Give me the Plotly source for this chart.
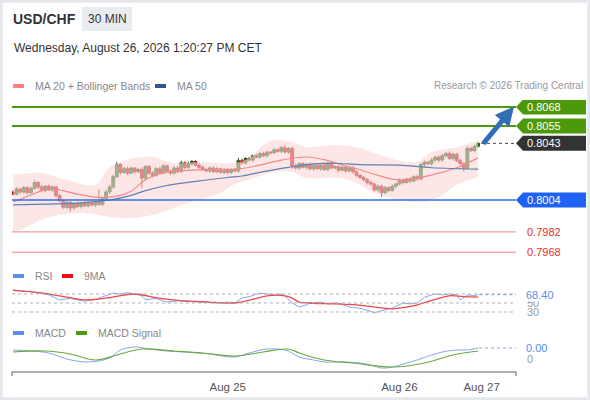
import plotly.graph_objects as go

W, H = 590, 400
FONT = "Liberation Sans, Arial, sans-serif"

# ---- candles (points above 0.80000, 1 pt = 0.00001) ----
open_first = 95
closes = [80, 115, 95, 125, 90, 120, 160, 130, 105, 135,
          110, 130, 70, 35, -10, 25, -15, 15, -5, 20,
          0, 25, 5, 30, 10, 50, 95, 130, 200, 285,
          230, 255, 225, 260, 235, 250, 190, 270, 225, 210,
          255, 230, 275, 240, 225, 260, 235, 295, 265, 290,
          305, 280, 265, 250, 240, 260, 235, 255, 230, 250,
          230, 250, 240, 310, 295, 325, 315, 345, 335, 360,
          345, 370, 365, 385, 375, 400, 370, 395, 275, 260,
          290, 265, 285, 255, 280, 255, 280, 250, 290, 260,
          270, 245, 265, 240, 260, 235, 210, 195, 180, 160,
          150, 110, 135, 90, 125, 105, 135, 150, 175, 160,
          185, 170, 200, 185, 285, 300, 290, 315, 335, 315,
          345, 360, 325, 355, 310, 290, 260, 395, 380, 410,
          430]
wick_up = [10, 14, 8, 12, 10, 14, 20, 10, 14, 8,
           12, 10, 8, 14, 10, 12, 8, 10, 14, 8,
           12, 10, 8, 14, 85, 10, 14, 12, 14, 16,
           10, 12, 14, 10, 8, 12, 14, 10, 12, 15,
           10, 14, 12, 8, 10, 14, 12, 16, 10, 14,
           12, 8, 10, 14, 8, 12, 10, 14, 8, 10,
           12, 8, 10, 20, 14, 10, 12, 8, 14, 10,
           12, 10, 8, 14, 10, 12, 18, 10, 14, 14,
           10, 12, 8, 14, 10, 12, 8, 10, 14, 12,
           10, 8, 14, 10, 12, 14, 10, 8, 12, 10,
           14, 8, 12, 10, 14, 8, 12, 10, 14, 10,
           8, 12, 10, 14, 10, 12, 8, 14, 10, 12,
           14, 10, 15, 12, 10, 14, 8, 14, 12, 10,
           8]
wick_dn = [10, 8, 14, 10, 12, 8, 10, 14, 10, 12,
           8, 14, 12, 10, 14, 10, 25, 12, 10, 14,
           10, 12, 8, 14, 10, 12, 10, 14, 12, 10,
           14, 10, 12, 8, 14, 10, 70, 12, 10, 14,
           10, 8, 14, 10, 12, 10, 14, 8, 12, 10,
           14, 10, 12, 8, 10, 14, 10, 12, 8, 14,
           10, 12, 8, 14, 10, 12, 10, 14, 8, 12,
           10, 14, 12, 8, 10, 14, 10, 12, 20, 10,
           12, 8, 14, 10, 12, 8, 14, 10, 12, 8,
           10, 14, 8, 12, 10, 14, 12, 8, 10, 14,
           10, 12, 14, 25, 10, 12, 8, 14, 10, 12,
           8, 14, 10, 12, 10, 14, 8, 12, 10, 14,
           10, 12, 8, 14, 10, 12, 25, 10, 12, 8,
           10]

# ---- moving averages and bands (candle index, points) ----
ma20_idx = [0, 5, 10, 14, 18, 23, 27, 30, 33, 37, 41, 46, 52, 60, 65, 69, 75, 82, 87, 92, 97, 102, 107, 112, 119, 124, 130]
ma20_val = [26, 74, 120, 105, 80, 60, 60, 72, 100, 180, 220, 240, 248, 250, 260, 280, 315, 336, 318, 282, 248, 210, 180, 188, 225, 262, 330]
ma50_idx = [0, 9, 18, 27, 33, 37, 43, 50, 60, 64, 70, 77, 84, 90, 97, 108, 117, 130]
ma50_val = [6, 12, 19, 40, 72, 105, 140, 165, 195, 205, 235, 265, 288, 293, 283, 280, 262, 253]
bbu_idx = [0, 8, 15, 23, 27, 30, 34, 39, 45, 52, 62, 66, 70, 73, 78, 82, 90, 97, 105, 113, 117, 124, 130]
bbu_val = [212, 226, 178, 145, 267, 300, 329, 336, 295, 302, 295, 329, 420, 453, 439, 405, 418, 398, 329, 302, 370, 405, 450]
bbl_idx = [0, 2, 6, 10, 20, 27, 34, 41, 49, 58, 62, 66, 73, 78, 82, 92, 97, 101, 108, 115, 119, 124, 130]
bbl_val = [-180, -166, -118, -77, -50, -77, -84, -50, 19, 88, 150, 180, 233, 233, 191, 191, 143, 88, 40, 26, 61, 143, 198]

# ---- RSI ----
rsi_idx = [0, 2, 4, 6, 8, 10, 13, 16, 20, 23, 26, 28, 30, 32, 34, 36, 37, 40, 43, 46, 50, 53, 57, 60,
           62, 64, 66, 69, 71, 73, 75, 76, 78, 80, 82, 83, 86, 88, 90, 92, 94, 97, 99, 101, 103, 106,
           109, 111, 113, 115, 118, 120, 122, 124, 125, 127, 129, 130]
rsi_val = [79, 77, 76, 74, 72, 68, 57, 60, 54, 58, 66, 72, 70, 73, 70, 66, 57, 60, 52, 55, 53, 52, 50, 52,
           50, 61, 64, 72, 70, 68, 70, 66, 50, 41, 46, 50, 52, 48, 50, 47, 41, 38, 34, 28, 33, 39,
           50, 48, 50, 63, 70, 68, 70, 68, 57, 68, 66, 68.4]
ma9_idx = [0, 6, 13, 20, 27, 34, 40, 46, 53, 62, 67, 71, 76, 78, 80, 83, 90, 96, 101, 106, 110, 113, 118, 122, 126, 130]
ma9_val = [78, 74, 66, 57, 62, 70, 62, 56, 53, 50, 58, 66, 66, 61, 52, 50, 48, 46, 41, 37, 41, 46, 58, 66, 64, 63]
rsi_levels = [70, 50, 30]

# ---- MACD (points) ----
macd_idx = [0, 5, 10, 15, 21, 27, 30, 34, 38, 43, 48, 55, 62, 66, 71, 76, 78, 80, 84, 87, 92, 97, 100, 103,
            106, 110, 113, 117, 120, 124, 127, 130]
macd_val = [9, 8, 6, 0, -3, 1, 9, 12, 10, 8, 7, 5, 2, 6, 10, 9, 6, 2, -1, -3, -3, -4, -6, -9,
            -8, -4, -1, 4, 7, 9, 9, 11]
sig_idx = [0, 9, 16, 23, 29, 36, 45, 53, 62, 70, 76, 78, 80, 87, 95, 106, 115, 123, 130]
sig_val = [7, 8, 5, -1, 4, 10, 8, 6, 3, 7, 10, 9, 6, -1, -4, -8, -4, 4, 8]

# ---- levels ----
res_levels = [0.8068, 0.8055]
last_price = 0.8043
sup_level = 0.8004
red_levels = [0.7982, 0.7968]

tick_idx = [60, 108, 131]
tick_txt = ["Aug 25", "Aug 26", "Aug 27"]


def pr(v):
    return 0.8 + v / 1e5


def fx(px):
    return px / W


def fy(py):
    return 1 - py / H


xr = [-0.3, 140.6]


def ix(px):
    # pixel -> candle index on the shared x range
    return xr[0] + (px - 12) * (xr[1] - xr[0]) / 504.0


opens = [open_first] + closes[:-1]
idx = list(range(len(closes)))
o = [pr(v) for v in opens]
c = [pr(v) for v in closes]
hi = [pr(max(a, b) + w) for a, b, w in zip(opens, closes, wick_up)]
lo = [pr(min(a, b) - w) for a, b, w in zip(opens, closes, wick_dn)]

fig = go.Figure()

fig.add_trace(go.Scatter(x=bbu_idx, y=[pr(v) for v in bbu_val], mode="lines",
                         line=dict(width=0, color="rgba(0,0,0,0)", shape="spline"), hoverinfo="skip"))
fig.add_trace(go.Scatter(x=bbl_idx, y=[pr(v) for v in bbl_val], mode="lines",
                         line=dict(width=0, color="rgba(0,0,0,0)", shape="spline"), fill="tonexty",
                         fillcolor="rgba(252,214,214,0.6)", hoverinfo="skip"))
fig.add_trace(go.Scatter(x=ma20_idx, y=[pr(v) for v in ma20_val], mode="lines",
                         line=dict(width=1.2, color="#f58a8a", shape="spline")))
fig.add_trace(go.Scatter(x=ma50_idx, y=[pr(v) for v in ma50_val], mode="lines",
                         line=dict(width=1.2, color="#5f7fb8", shape="spline")))
fig.add_trace(go.Candlestick(
    x=idx, open=o, high=hi, low=lo, close=c, whiskerwidth=0, opacity=1,
    increasing=dict(line=dict(color="#1e5a18", width=1), fillcolor="#1f7a1a"),
    decreasing=dict(line=dict(color="#a51010", width=1), fillcolor="#d80f0f"),
))

fig.add_trace(go.Scatter(x=rsi_idx, y=rsi_val, mode="lines", xaxis="x2", yaxis="y2",
                         line=dict(width=1, color="#86a6ee")))
fig.add_trace(go.Scatter(x=ma9_idx, y=ma9_val, mode="lines", xaxis="x2", yaxis="y2",
                         line=dict(width=1.3, color="#f04848", shape="spline")))

fig.add_trace(go.Scatter(x=macd_idx, y=[v / 1e5 for v in macd_val], mode="lines", xaxis="x3", yaxis="y3",
                         line=dict(width=1, color="#86a6ee", shape="spline")))
fig.add_trace(go.Scatter(x=sig_idx, y=[v / 1e5 for v in sig_val], mode="lines", xaxis="x3", yaxis="y3",
                         line=dict(width=1.2, color="#6aaa3a", shape="spline")))

xdom = [fx(12), fx(516)]
hidden = dict(showgrid=False, zeroline=False, showticklabels=False, showline=False, ticks="")

shapes = []
annos = []

# outer frame
shapes.append(dict(type="rect", xref="paper", yref="paper", x0=0.002, x1=0.998, y0=0.003, y1=0.997,
                   line=dict(color="#e4e7eb", width=3)))

# level lines
for lv in res_levels:
    shapes.append(dict(type="line", xref="paper", yref="y", x0=fx(12), x1=fx(516), y0=lv, y1=lv,
                       line=dict(color="#4c9a0c", width=2)))
shapes.append(dict(type="line", xref="paper", yref="y", x0=fx(12), x1=fx(516), y0=sup_level, y1=sup_level,
                   line=dict(color="#2f6fe8", width=1.5)))
for lv in red_levels:
    shapes.append(dict(type="line", xref="paper", yref="y", x0=fx(12), x1=fx(516), y0=lv, y1=lv,
                       line=dict(color="#f5a0a0", width=1.3)))
shapes.append(dict(type="line", xref="paper", yref="y", x0=fx(481), x1=fx(516), y0=last_price, y1=last_price,
                   line=dict(color="#444444", width=1, dash="dot")))

# price label boxes
hh = 7.5 / 14531.0
box_list = [(res_levels[0], "#4c9a0c"), (res_levels[1], "#4c9a0c"), (last_price, "#333333"), (sup_level, "#1f63f5")]
for lv, col in box_list:
    path = "M {} {} L {} {} L {} {} L {} {} L {} {} Z".format(
        fx(516), lv, fx(523), lv + hh, fx(586), lv + hh, fx(586), lv - hh, fx(523), lv - hh)
    shapes.append(dict(type="path", xref="paper", yref="y", path=path, fillcolor=col, line=dict(width=0)))
    annos.append(dict(xref="paper", yref="y", x=fx(525), y=lv, text="{:.4f}".format(lv), showarrow=False,
                      xanchor="left", yanchor="middle", font=dict(family=FONT, size=11, color="white")))
for lv in red_levels:
    annos.append(dict(xref="paper", yref="y", x=fx(525), y=lv, text="{:.4f}".format(lv), showarrow=False,
                      xanchor="left", yanchor="middle", font=dict(family=FONT, size=11, color="#e8302a")))

# forecast arrow
annos.append(dict(xref="x", yref="y", axref="x", ayref="y", x=ix(514), y=0.80683,
                  ax=ix(482), ay=0.80418, text="", showarrow=True, arrowhead=2, arrowsize=0.75,
                  arrowwidth=5, arrowcolor="#2f6db5"))

# RSI levels
for lv in rsi_levels:
    shapes.append(dict(type="line", xref="paper", yref="y2", x0=fx(12), x1=fx(516), y0=lv, y1=lv,
                       line=dict(color="#b0b0b0", width=1, dash="dot")))
shapes.append(dict(type="line", xref="paper", yref="y2", x0=fx(479), x1=fx(516), y0=rsi_val[-1], y1=rsi_val[-1],
                   line=dict(color="#86a6ee", width=1, dash="dot")))
shapes.append(dict(type="line", xref="paper", yref="y3", x0=fx(479), x1=fx(516),
                   y0=macd_val[-1] / 1e5, y1=macd_val[-1] / 1e5,
                   line=dict(color="#86a6ee", width=1, dash="dot")))
for lv in rsi_levels[1:]:
    annos.append(dict(xref="paper", yref="y2", x=fx(525), y=lv, text=str(lv), showarrow=False,
                      xanchor="left", yanchor="middle", font=dict(family=FONT, size=11, color="#999999")))
annos.append(dict(xref="paper", yref="y2", x=fx(525), y=rsi_val[-1], text="{:.2f}".format(rsi_val[-1]),
                  showarrow=False, xanchor="left", yanchor="middle", bgcolor="white", borderpad=0,
                  font=dict(family=FONT, size=11, color="#5b8def")))
annos.append(dict(xref="paper", yref="y3", x=fx(525), y=0, text="0", showarrow=False,
                  xanchor="left", yanchor="middle", font=dict(family=FONT, size=11, color="#999999")))
annos.append(dict(xref="paper", yref="y3", x=fx(525), y=macd_val[-1] / 1e5, text="{:.2f}".format(macd_val[-1] / 1e5),
                  showarrow=False, xanchor="left", yanchor="middle", bgcolor="white", borderpad=0,
                  font=dict(family=FONT, size=11, color="#5b8def")))

# x axis end ticks
for xp in (12, 516):
    shapes.append(dict(type="line", xref="paper", yref="paper", x0=fx(xp), x1=fx(xp), y0=fy(371), y1=fy(376),
                       line=dict(color="#b0b0b0", width=2)))

# header
annos.append(dict(xref="paper", yref="paper", x=fx(11), y=fy(19), text="<b>USD/CHF</b>", showarrow=False,
                  xanchor="left", yanchor="middle", font=dict(family=FONT, size=14, color="#333333")))
shapes.append(dict(type="rect", xref="paper", yref="paper", x0=fx(82), x1=fx(132), y0=fy(31), y1=fy(7),
                   fillcolor="#e9ecef", line=dict(width=0)))
annos.append(dict(xref="paper", yref="paper", x=fx(107), y=fy(19), text="30 MIN", showarrow=False,
                  xanchor="center", yanchor="middle", font=dict(family=FONT, size=12, color="#333333")))
annos.append(dict(xref="paper", yref="paper", x=fx(12), y=fy(48), text="Wednesday, August 26, 2026 1:20:27 PM CET",
                  showarrow=False, xanchor="left", yanchor="middle", font=dict(family=FONT, size=12, color="#333333")))
annos.append(dict(xref="paper", yref="paper", x=fx(585), y=fy(86), text="Research © 2026 Trading Central",
                  showarrow=False, xanchor="right", yanchor="middle", font=dict(family=FONT, size=10, color="#999999")))

# legends
legend_items = [
    (13, 86, "#ff8080", "MA 20 + Bollinger Bands"),
    (155, 86, "#2f5597", "MA 50"),
    (13, 276, "#5b8def", "RSI"),
    (62, 276, "#e81010", "9MA"),
    (13, 333, "#5b8def", "MACD"),
    (76, 333, "#4a9c0a", "MACD Signal"),
]
for lx, ly, col, name in legend_items:
    shapes.append(dict(type="rect", xref="paper", yref="paper", x0=fx(lx), x1=fx(lx + 11),
                       y0=fy(ly + 2), y1=fy(ly - 2), fillcolor=col, line=dict(width=0)))
    annos.append(dict(xref="paper", yref="paper", x=fx(lx + 20), y=fy(ly), text=name, showarrow=False,
                      xanchor="left", yanchor="middle", font=dict(family=FONT, size=10.5, color="#888888")))

fig.update_layout(
    width=W, height=H, margin=dict(l=0, r=0, t=0, b=0),
    paper_bgcolor="white", plot_bgcolor="rgba(0,0,0,0)",
    showlegend=False, hovermode=False, boxgap=0.2, boxgroupgap=0,
    font=dict(family=FONT),
    xaxis=dict(domain=xdom, range=xr, anchor="y", rangeslider=dict(visible=False), **hidden),
    yaxis=dict(domain=[fy(260), fy(100)], range=[0.796271, 0.807282], anchor="x", **hidden),
    xaxis2=dict(domain=xdom, range=xr, anchor="y2", **hidden),
    yaxis2=dict(domain=[fy(320), fy(284)], range=[12.2, 92.2], anchor="x2", **hidden),
    xaxis3=dict(domain=xdom, range=xr, anchor="y3", showgrid=False, zeroline=False,
                showline=True, linecolor="#b0b0b0", linewidth=2, ticks="",
                tickvals=tick_idx, ticktext=tick_txt, ticklabelstandoff=4,
                tickfont=dict(family=FONT, size=11.5, color="#555555")),
    yaxis3=dict(domain=[fy(371), fy(338)], range=[-0.00012, 0.00021], anchor="x3", **hidden),
    shapes=shapes, annotations=annos,
)

# page body has a default 8px margin; remove it so the 590x400 figure fills the window
fig.write_html("out.html", config={"displayModeBar": False},
               post_script="document.body.style.margin='0';")
